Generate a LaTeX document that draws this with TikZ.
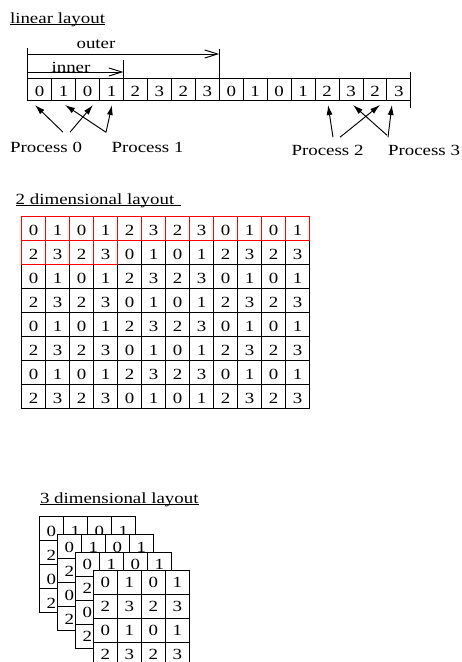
\documentclass[tikz,border=0pt]{standalone}
\usepackage{fontspec}
\setmainfont[FakeStretch=1.22]{Liberation Serif}
\usetikzlibrary{arrows.meta}
\begin{document}
\begin{tikzpicture}[x=1pt,y=-1pt,line width=0.95pt,
  every node/.style={font=\fontsize{15.5}{18}\selectfont},
  lbl/.style={inner sep=0pt, outer sep=0pt},
  basecell/.style={draw, line width=0.95pt, inner sep=0pt, outer sep=0pt,
    text depth=0pt, anchor=north west},
  lcell/.style={basecell, minimum width=23.95pt, minimum height=22pt, text height=15pt},
  gcell/.style={basecell, minimum width=24pt, minimum height=24pt, text height=12.6pt},
  tcell/.style={basecell, fill=white, minimum width=24pt, minimum height=24pt},
  dimarrow/.style={-{Straight Barb[length=13pt,width=8pt,line width=0.95pt]}},
  parrow/.style={-{Latex[length=10pt,width=6pt]}},
  hilite/.style={draw=red, line width=0.95pt}
]
\useasboundingbox (0,0) rectangle (461,662);

% ---------- linear layout ----------
\node[lbl, anchor=base west] (t1) at (10,23.3) {linear layout};
\draw ([yshift=-1.5pt]t1.base west) -- ([yshift=-1.5pt]t1.base east);

\foreach \d [count=\i from 0] in {0,1,0,1,2,3,2,3,0,1,0,1,2,3,2,3}
  \node[lcell] (l\i) at (27.7+23.95*\i, 78) {\d};

% end marker on the right of the row
\draw (l15.north east) -- ++(0,-6);
\draw (l15.south east) -- ++(0,8);

% outer / inner extents
\draw (l0.north west) -- ++(0,-30);
\draw (l7.north east) -- ++(0,-29);
\draw (l3.north east) -- ++(0,-18);
\coordinate (outS) at ([yshift=24pt]l0.north west);
\coordinate (outE) at ([yshift=24pt]l7.north east);
\coordinate (inS)  at ([yshift=6pt]l0.north west);
\coordinate (inE)  at ([yshift=6pt]l3.north east);
\draw[dimarrow] (outS) -- (outE);
\draw[dimarrow] (inS) -- (inE);
\node[lbl, anchor=base] (outer) at (96,48.3) {outer};
\node[lbl, anchor=base] (inner) at (71,72) {inner};

% processes
\node[lbl, anchor=base] (p0) at (46,152) {Process 0};
\node[lbl, anchor=base] (p1) at (147.5,152) {Process 1};
\node[lbl, anchor=base] (p2) at (327.5,155.5) {Process 2};
\node[lbl, anchor=base] (p3) at (424,155.5) {Process 3};

\draw[parrow] ([xshift=17pt,yshift=9.5pt]p0.north) -- ([xshift=-4.7pt,yshift=-5pt]l0.south);
\draw[parrow] ([xshift=24pt,yshift=9.5pt]p0.north) -- ([xshift=5.4pt,yshift=-5pt]l2.south);
\draw[parrow] ([xshift=-41.5pt,yshift=9.5pt]p1.north) -- ([xshift=1.4pt,yshift=-5pt]l1.south);
\draw[parrow] ([xshift=-41.5pt,yshift=9.5pt]p1.north) -- ([xshift=0.5pt,yshift=-5pt]l3.south);
\draw[parrow] ([xshift=5.5pt,yshift=8pt]p2.north) -- ([xshift=1pt,yshift=-5pt]l12.south);
\draw[parrow] ([xshift=12.5pt,yshift=8pt]p2.north) -- ([xshift=5pt,yshift=-5pt]l14.south);
\draw[parrow] ([xshift=-37pt,yshift=10pt]p3.north) -- ([xshift=2pt,yshift=-5pt]l13.south);
\draw[parrow] ([xshift=-36pt,yshift=8pt]p3.north) -- ([xshift=-7pt,yshift=-5pt]l15.south);

% ---------- 2 dimensional layout ----------
\node[lbl, anchor=base west] (t2) at (15.7,204) {2 dimensional layout};
\draw ([yshift=-1pt]t2.base west) -- ([xshift=7pt,yshift=-1pt]t2.base east);

\foreach \r in {0,...,7}
  \foreach \c in {0,...,11} {
    \pgfmathtruncatemacro\v{2*mod(int(\c/4)+\r,2)+mod(\c,2)}
    \node[gcell] (g-\r-\c) at (21.7+24*\c, 216.7+24*\r) {\v};
  }
\foreach \c in {0,...,11}
  \draw[hilite] (g-0-\c.north west) rectangle (g-0-\c.south east);
\foreach \c in {0,...,3}
  \draw[hilite] (g-1-\c.north west) rectangle (g-1-\c.south east);

% ---------- 3 dimensional layout ----------
\node[lbl, anchor=base west] (t3) at (40,503.3) {3 dimensional layout};
\draw ([yshift=-1.5pt]t3.base west) -- ([yshift=-1.5pt]t3.base east);

\foreach \k/\th in {0/17.4,1/12.6,2/10.6,3/9.2}
  \foreach \r in {0,...,3}
    \foreach \c in {0,...,3} {
      \pgfmathtruncatemacro\v{2*mod(\r,2)+mod(\c,2)}
      \node[tcell, text height=\th pt] (s\k-\r-\c) at (39.3+18*\k+24*\c, 516+18.2*\k+24*\r) {\v};
    }
\end{tikzpicture}
\end{document}
